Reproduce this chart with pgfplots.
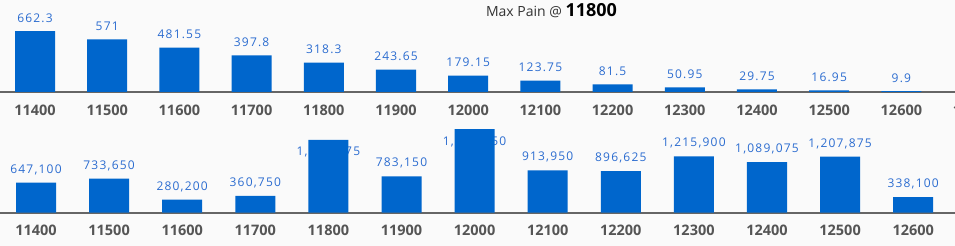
\documentclass[border=0pt]{standalone}
\usepackage{fontspec}
\setmainfont{Open Sans}
\newfontfamily\lblfont[LetterSpace=10]{Open Sans}
\usepackage{pgfplots}
\pgfplotsset{compat=1.18}
\definecolor{barblue}{HTML}{0066CC}
\definecolor{lblblue}{HTML}{2B6CD0}
\definecolor{ticklbl}{HTML}{555555}
\definecolor{axgray}{HTML}{666666}
\definecolor{bg}{HTML}{FAFAFA}
\definecolor{titlegray}{HTML}{333333}
\begin{document}
\begin{tikzpicture}[x=1pt,y=1pt]
\fill[bg] (0,0) rectangle (955,246);
\path[use as bounding box] (0,0) rectangle (955,246);
\pgfplotsset{mystyle/.style={
  scale only axis,
  axis x line=bottom, axis y line=none,
  x axis line style={-, draw=axgray, line width=2pt},
  major tick length=0pt,
  ymin=0,
  ymajorgrids,
  grid style={dotted, gray!70, line width=0.8pt},
  yticklabels={},
  xticklabel style={anchor=center, font=\fontsize{14.5}{14.5}\selectfont\bfseries, text=ticklbl},
  clip=false,
},
lbls/.style={
  nodes near coords={\lblfont\fontsize{12}{14}\selectfont\pgfplotspointmeta},
  point meta=explicit symbolic,
  nodes near coords style={anchor=center, yshift=13pt, text=lblblue},
}}
% ---- top panel ----
\begin{axis}[mystyle,
  at={(0pt,154pt)}, anchor=south west,
  width=1009.7pt, height=92pt,
  xmin=-0.4848, xmax=13.5,
  ymax=1000, ytick={500},
  xtick={0,...,13},
  xticklabels={11400,11500,11600,11700,11800,11900,12000,12100,12200,12300,12400,12500,12600,12700},
  xticklabel style={yshift=-18pt},
]
\addplot[ybar, bar shift=0pt, bar width=40pt, fill=barblue, draw=none, lbls]
  table[x=x, y=y, meta=l] {
x y l
0 662.3 662.3
1 571 571
2 481.55 481.55
3 397.8 397.8
4 318.3 318.3
5 243.65 243.65
6 179.15 179.15
7 123.75 123.75
8 81.5 81.5
9 50.95 50.95
10 29.75 29.75
11 16.95 16.95
12 9.9 9.9
};
\end{axis}
% ---- bottom panel: value labels (drawn first, so bars cover the two tall ones) ----
\begin{axis}[
  scale only axis, hide axis, clip=false,
  at={(0pt,33.3pt)}, anchor=south west,
  width=955pt, height=92.8pt,
  xmin=-0.4925, xmax=12.572,
  ymin=0, ymax=2000000,
]
\addplot[draw=none, mark=none, lbls]
  table[x=x, y=y, meta=l] {
x y l
0 647100 647,100
1 733650 733,650
2 280200 280,200
3 360750 360,750
4 1028000 1,566,875
5 783150 783,150
6 1250000 1,803,750
7 913950 913,950
8 896625 896,625
9 1215900 1,215,900
10 1089075 1,089,075
11 1207875 1,207,875
12 338100 338,100
};
\end{axis}
% ---- bottom panel: bars ----
\begin{axis}[mystyle,
  at={(0pt,33.3pt)}, anchor=south west,
  width=955pt, height=92.8pt,
  xmin=-0.4925, xmax=12.572,
  ymax=2000000, ytick={1000000},
  xtick={0,...,12},
  xticklabels={11400,11500,11600,11700,11800,11900,12000,12100,12200,12300,12400,12500,12600},
  xticklabel style={yshift=-17.3pt},
]
\addplot[ybar, bar shift=0pt, bar width=40pt, fill=barblue, draw=none]
  table[x=x, y=y] {
x y
0 647100
1 733650
2 280200
3 360750
4 1566875
5 783150
6 1803750
7 913950
8 896625
9 1215900
10 1089075
11 1207875
12 338100
};
\end{axis}
\node[anchor=base] at (551.5,229) {{\fontsize{14}{14}\selectfont\color{titlegray}Max Pain @ }{\fontsize{18}{18}\selectfont\bfseries 11800}};
\end{tikzpicture}
\end{document}
